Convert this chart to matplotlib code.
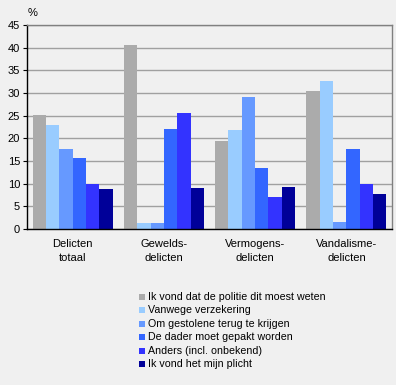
import matplotlib
matplotlib.use("Agg")
import matplotlib.pyplot as plt
import numpy as np
from matplotlib.patches import Rectangle

categories = ["Delicten\ntotaal", "Gewelds-\ndelicten", "Vermogens-\ndelicten", "Vandalisme-\ndelicten"]
series_names = [
    "Ik vond dat de politie dit moest weten",
    "Vanwege verzekering",
    "Om gestolene terug te krijgen",
    "De dader moet gepakt worden",
    "Anders (incl. onbekend)",
    "Ik vond het mijn plicht",
]
politie = [25.1, 40.6, 19.4, 30.4]
verzekering = [22.9, 1.4, 21.8, 32.6]
gestolene = [17.6, 1.4, 29.1, 1.5]
dader = [15.7, 22.1, 13.5, 17.6]
anders = [9.9, 25.6, 7.1, 9.9]
plicht = [8.8, 9.0, 9.3, 7.7]
series = [politie, verzekering, gestolene, dader, anders, plicht]
colors = ["#ABABAB", "#99CCFF", "#6699FF", "#3366FF", "#3333FF", "#000099"]
yticks = [0, 5, 10, 15, 20, 25, 30, 35, 40, 45]

plt.rcParams['font.family'] = ['Liberation Sans', 'DejaVu Sans']
bg = "#F0F0F0"
fs = 8
fig = plt.figure(figsize=(3.96, 3.85), dpi=100, facecolor=bg)
W, H = 396, 385
ax = fig.add_axes([27 / W, (H - 229) / H, 365 / W, 204 / H])
ax.set_facecolor(bg)

n = len(series)
bw = 0.146
x = np.arange(len(categories))
for i, (vals, c) in enumerate(zip(series, colors)):
    offs = (i - (n - 1) / 2) * bw
    ax.bar(x + offs, vals, width=bw, color=c, edgecolor='none', zorder=3, label=series_names[i])

ax.set_xlim(-0.5, len(categories) - 0.5)
ax.set_ylim(0, 45)
ax.set_yticks(yticks)
ax.set_yticklabels([str(t) for t in yticks], fontsize=fs)
ax.set_xticks(x)
ax.set_xticklabels(categories, fontsize=fs, linespacing=1.5)
ax.tick_params(axis='x', length=0, pad=7)
ax.tick_params(axis='y', length=3, width=0.8, pad=2, color='black')
ax.yaxis.grid(True, color='#A0A0A0', linewidth=1, zorder=0)
ax.set_axisbelow(True)
for s in ['top', 'right']:
    ax.spines[s].set_color('#808080')
    ax.spines[s].set_linewidth(1)
for s in ['bottom', 'left']:
    ax.spines[s].set_color('black')
    ax.spines[s].set_linewidth(1)
ax.spines['bottom'].set_zorder(5)

fig.text(28 / W, 1 - 13 / H, "%", fontsize=fs, va='center', ha='left')

# legend
y0 = 297
dy = 13.4
for i, (name, c) in enumerate(zip(series_names, colors)):
    yy = y0 + i * dy
    fig.patches.append(Rectangle((139 / W, 1 - (yy + 3) / H), 6 / W, 6 / H,
                                 transform=fig.transFigure, facecolor=c, edgecolor='none'))
    fig.text(148.5 / W, 1 - yy / H, name, fontsize=7.7, va='center', ha='left')

fig.savefig("out.png", dpi=100, facecolor=bg)
